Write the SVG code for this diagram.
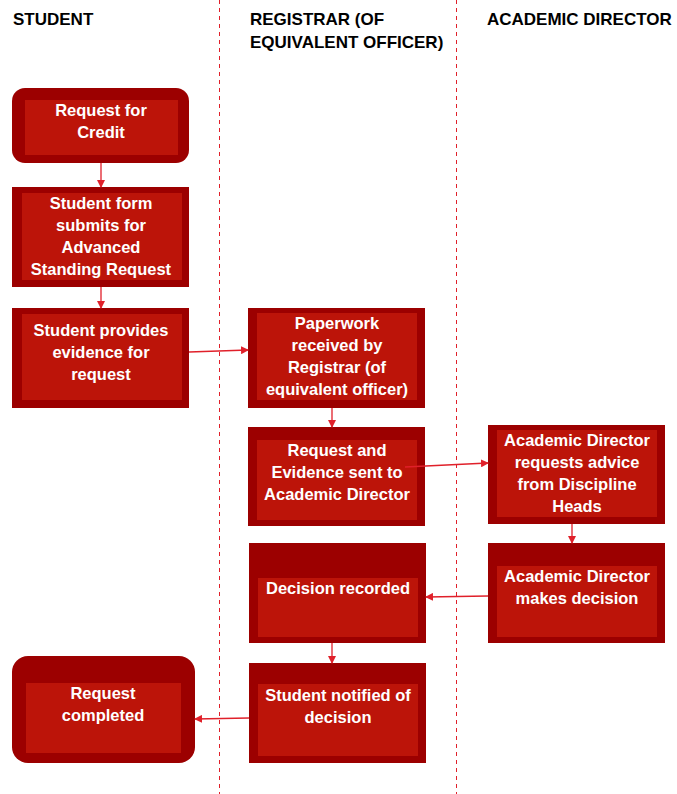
<svg xmlns="http://www.w3.org/2000/svg" width="677" height="794" viewBox="0 0 677 794">
<style>
.lane{stroke:#E0202A;stroke-width:1;stroke-dasharray:4 4;fill:none}
.hdr{font-family:"Liberation Sans",Arial,sans-serif;font-weight:bold;font-size:17px;fill:#000}
.outer{fill:#9C0000}
.inner{fill:#BC1409}
.t{font-family:"Liberation Sans",Arial,sans-serif;font-weight:bold;font-size:16.5px;fill:#fff;text-anchor:middle}
.c{stroke:#E0202A;stroke-width:1.3;fill:none;marker-end:url(#ah)}
</style>
<defs>
<marker id="ah" markerWidth="8" markerHeight="8" refX="7" refY="4" orient="auto" markerUnits="userSpaceOnUse">
<path d="M0,0 L8,4 L0,8 Z" fill="#E0202A"/>
</marker>
</defs>
<rect width="677" height="794" fill="#fff"/>
<g id="lanes">
<line class="lane" x1="219.5" y1="0" x2="219.5" y2="794"/>
<line class="lane" x1="456.5" y1="0" x2="456.5" y2="794"/>
<text class="hdr" x="13" y="25">STUDENT</text>
<text class="hdr" x="250" y="25">REGISTRAR (OF</text>
<text class="hdr" x="250" y="48">EQUIVALENT OFFICER)</text>
<text class="hdr" x="487" y="25">ACADEMIC DIRECTOR</text>
</g>
<g id="n1">
<rect class="outer" x="12" y="88" width="177" height="75" rx="13"/>
<rect class="inner" x="25" y="100" width="153" height="55"/>
<text class="t" x="101" y="116">Request for</text>
<text class="t" x="101" y="138">Credit</text>
</g>
<g id="n2">
<rect class="outer" x="12" y="187" width="177" height="100"/>
<rect class="inner" x="22" y="193" width="160" height="87"/>
<text class="t" x="101" y="209">Student form</text>
<text class="t" x="101" y="231">submits for</text>
<text class="t" x="101" y="253">Advanced</text>
<text class="t" x="101" y="275">Standing Request</text>
</g>
<g id="n3">
<rect class="outer" x="12" y="308" width="177" height="100"/>
<rect class="inner" x="22" y="314" width="160" height="86"/>
<text class="t" x="101" y="336">Student provides</text>
<text class="t" x="101" y="358">evidence for</text>
<text class="t" x="101" y="380">request</text>
</g>
<g id="n4">
<rect class="outer" x="248" y="308" width="177" height="100"/>
<rect class="inner" x="257" y="313" width="160" height="87"/>
<text class="t" x="337" y="329">Paperwork</text>
<text class="t" x="337" y="351">received by</text>
<text class="t" x="337" y="373">Registrar (of</text>
<text class="t" x="337" y="395">equivalent officer)</text>
</g>
<g id="n5">
<rect class="outer" x="248" y="427" width="177" height="99"/>
<rect class="inner" x="257" y="440" width="160" height="80"/>
<text class="t" x="337" y="456">Request and</text>
<text class="t" x="337" y="478">Evidence sent to</text>
<text class="t" x="337" y="500">Academic Director</text>
</g>
<g id="n6">
<rect class="outer" x="488" y="425" width="177" height="99"/>
<rect class="inner" x="497" y="430" width="160" height="87"/>
<text class="t" x="577" y="446">Academic Director</text>
<text class="t" x="577" y="468">requests advice</text>
<text class="t" x="577" y="490">from Discipline</text>
<text class="t" x="577" y="512">Heads</text>
</g>
<g id="n7">
<rect class="outer" x="488" y="543" width="177" height="100"/>
<rect class="inner" x="497" y="566" width="160" height="71"/>
<text class="t" x="577" y="582">Academic Director</text>
<text class="t" x="577" y="604">makes decision</text>
</g>
<g id="n8">
<rect class="outer" x="249" y="543" width="177" height="100"/>
<rect class="inner" x="258" y="578" width="160" height="59"/>
<text class="t" x="338" y="594">Decision recorded</text>
</g>
<g id="n9">
<rect class="outer" x="249" y="663" width="177" height="100"/>
<rect class="inner" x="258" y="684" width="160" height="72"/>
<text class="t" x="338" y="701">Student notified of</text>
<text class="t" x="338" y="723">decision</text>
</g>
<g id="n10">
<rect class="outer" x="12" y="656" width="183" height="107" rx="16"/>
<rect class="inner" x="26" y="683" width="155" height="70"/>
<text class="t" x="103" y="699">Request</text>
<text class="t" x="103" y="721">completed</text>
</g>
<g id="connectors">
<line class="c" x1="101" y1="163" x2="101" y2="187"/>
<line class="c" x1="101" y1="287" x2="101" y2="308"/>
<line class="c" x1="189" y1="352" x2="248" y2="350"/>
<line class="c" x1="332" y1="408" x2="332" y2="427"/>
<line class="c" x1="405" y1="467" x2="488" y2="463"/>
<line class="c" x1="572" y1="524" x2="572" y2="543"/>
<line class="c" x1="488" y1="596" x2="426" y2="597"/>
<line class="c" x1="332" y1="643" x2="332" y2="663"/>
<line class="c" x1="249" y1="718" x2="195" y2="719"/>
</g>
</svg>
